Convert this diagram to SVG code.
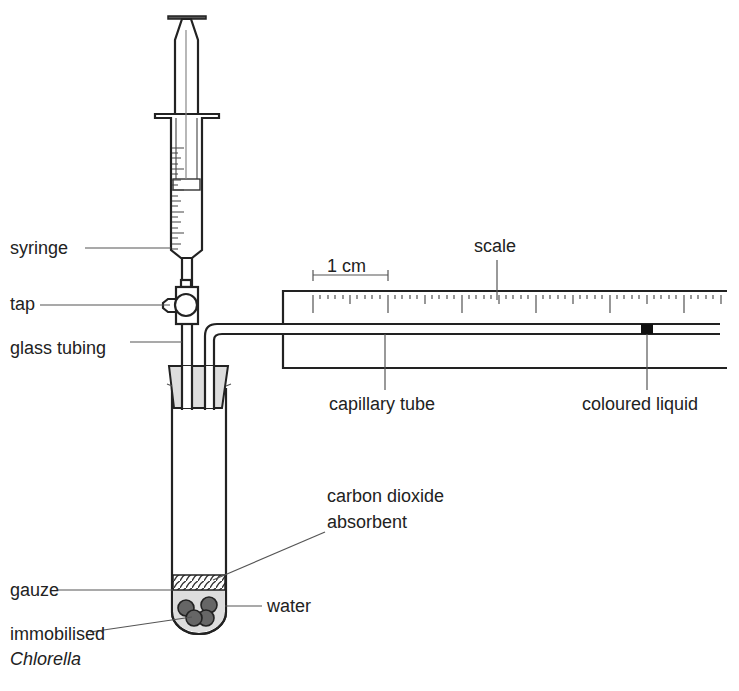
<svg xmlns="http://www.w3.org/2000/svg" width="739" height="691" viewBox="0 0 739 691">
<style>
.o{fill:none;stroke:#222;stroke-width:2.2}
.w{fill:#fff;stroke:#222;stroke-width:2.2}
.t{fill:none;stroke:#444;stroke-width:1.1}
.l{fill:none;stroke:#555;stroke-width:1.2}
text{font-family:"Liberation Sans",Arial,sans-serif;font-size:18px;fill:#222}
</style>
<defs>
<pattern id="h" width="6" height="7" patternUnits="userSpaceOnUse"><rect width="6" height="7" fill="#fff"/><path d="M0,7 Q2,2 6,0" stroke="#333" stroke-width="1.3" fill="none"/></pattern>
</defs>
<rect width="739" height="691" fill="#fff"/>
<g id="scale">
<path class="o" d="M727,291 H283 V324 M283,334 V368 H727"/>
<g class="t">
<path d="M313,295v18M388,295v18M462,295v18M536,295v18M610,295v18M684,295v18"/>
<path d="M350,295v9M425,295v9M499,295v9M573,295v9M647,295v9M721,295v9"/>
<path d="M320,295v4M328,295v4M335,295v4M343,295v4M357,295v4M365,295v4M372,295v4M380,295v4M395,295v4M402,295v4M410,295v4M417,295v4M432,295v4M439,295v4M447,295v4M454,295v4M469,295v4M476,295v4M484,295v4M491,295v4M506,295v4M513,295v4M521,295v4M528,295v4M543,295v4M550,295v4M558,295v4M565,295v4M580,295v4M587,295v4M595,295v4M602,295v4M617,295v4M624,295v4M632,295v4M639,295v4M654,295v4M661,295v4M669,295v4M676,295v4M691,295v4M698,295v4M706,295v4M713,295v4"/>
</g>
</g>
<g id="capillary">
<path class="o" d="M205,366 V336 Q205,324 217,324 H720 M214,366 V340 Q214,334 222,334 H720"/>
<rect x="641" y="324" width="12" height="10" fill="#111"/>
</g>
<g id="syringe">
<rect x="168" y="16" width="38" height="3" fill="#555" stroke="#222" stroke-width="1.5"/>
<path class="w" d="M182,19 L175,40 V114 H198 V40 L191,19 Z"/>
<path class="w" d="M155,114 H219 V118 H202 V250 L192,258 H181 L171,250 V118 H155 Z"/>
<path class="t" d="M176,118 V179 M197,118 V179"/>
<rect x="173" y="179" width="27" height="11" fill="#fff" stroke="#333" stroke-width="1.4"/>
<path stroke="#888" stroke-width="1.2" d="M186,30 V179"/>
<g class="t">
<path d="M172,148h12M172,153h6M172,158h9M172,164h6M172,169h12M172,174h6M172,180h9M172,185h6M172,190h12M172,196h6M172,201h9M172,206h6M172,212h12M172,217h6M172,222h9M172,228h6M172,233h12M172,238h6M172,244h9M172,249h6"/>
</g>
<path class="o" d="M182,258 V287 M192,258 V287"/>
</g>
<g id="tap">
<rect x="181" y="280" width="10" height="7" class="w"/>
<path class="w" d="M176,299 H168 L163,303 V308 L168,312 H176"/>
<rect x="176" y="287" width="22" height="37" class="w"/>
<circle cx="186" cy="305" r="11" class="w"/>
</g>
<g id="tube">
<path class="o" d="M172,388 V612 A27,22 0 0 0 226,612 V388"/>
<path d="M173,590 H225 V612 A26,20 0 0 1 173,612 Z" fill="#ddd" stroke="none"/>
<rect x="173" y="575" width="52" height="15" fill="url(#h)" stroke="#222" stroke-width="1.5"/>
<g fill="#666" stroke="#222" stroke-width="1.6">
<circle cx="186" cy="608" r="8"/><circle cx="209" cy="605" r="8"/><circle cx="206" cy="618" r="8"/><circle cx="194" cy="618" r="8"/>
</g>
<path class="o" d="M172,612 A27,22 0 0 0 226,612"/>
<path d="M169,366 H228 L222,408 H174 Z" fill="#ddd" stroke="#222" stroke-width="2"/>
<rect x="183" y="366" width="8" height="42" fill="#fff"/>
<rect x="206" y="366" width="7" height="42" fill="#fff"/>
<path class="o" d="M182,324 V410 M192,324 V410 M205,366 V410 M214,366 V410"/>
<path class="l" d="M167,384 L172,386 M231,384 L226,386"/>
</g>
<g id="connectors" class="l">
<path d="M85,248 H171"/>
<path d="M40,305 H170"/>
<path d="M130,342 H182"/>
<path d="M313,275 H388 M313,270 V281 M388,270 V281"/>
<path d="M497,260 V300"/>
<path d="M385,334 V390"/>
<path d="M647,334 V390"/>
<path d="M325,532 L213,580"/>
<path d="M58,590 H173"/>
<path d="M262,606 H225"/>
<path d="M90,632 L192,617"/>
</g>
<g id="labels">
<text x="10" y="254">syringe</text>
<text x="10" y="310">tap</text>
<text x="10" y="354">glass tubing</text>
<text x="327" y="272">1 cm</text>
<text x="474" y="252">scale</text>
<text x="329" y="410">capillary tube</text>
<text x="582" y="410">coloured liquid</text>
<text x="327" y="502">carbon dioxide</text>
<text x="327" y="528">absorbent</text>
<text x="10" y="596">gauze</text>
<text x="267" y="612">water</text>
<text x="10" y="640">immobilised</text>
<text x="10" y="665" font-style="italic">Chlorella</text>
</g>
</svg>
